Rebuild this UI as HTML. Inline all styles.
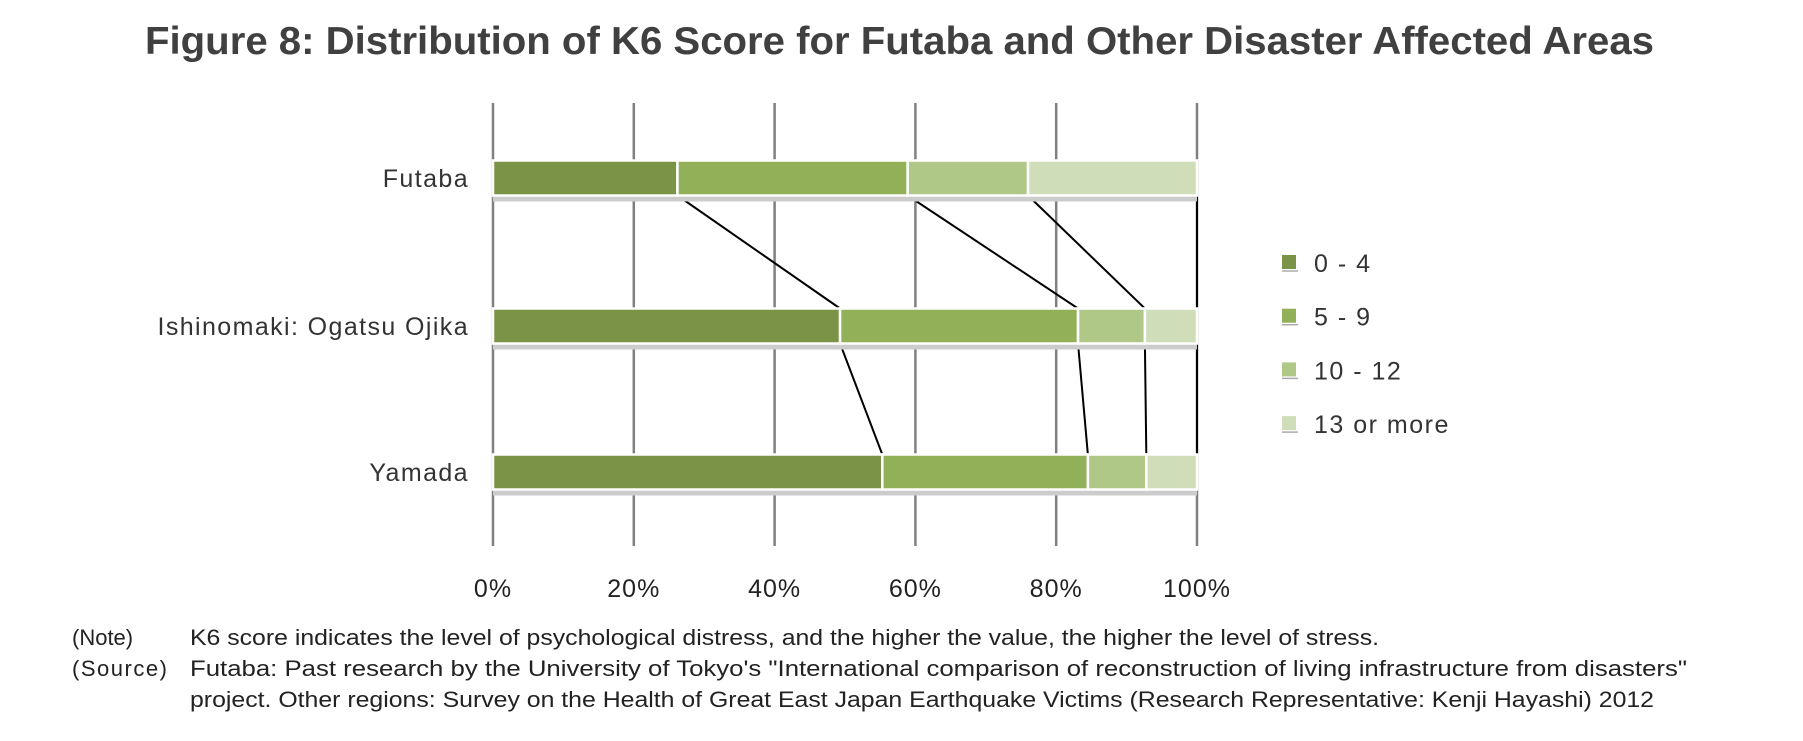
<!DOCTYPE html>
<html><head><meta charset="utf-8"><style>
body{margin:0;background:#fff}
svg{display:block;font-family:"Liberation Sans",sans-serif}
</style></head><body>
<svg id="c" width="1803" height="741" viewBox="0 0 1803 741">
<text x="145" y="54" textLength="1509" lengthAdjust="spacingAndGlyphs" font-size="39" font-weight="bold" fill="#404040">Figure 8: Distribution of K6 Score for Futaba and Other Disaster Affected Areas</text>
<g id="grid"></g><g id="conn"></g><g id="bars"></g><g id="labels"></g><g id="legend"></g>
<text x="72" y="645" font-size="22" fill="#222">(Note)</text>
<text x="190" y="645" textLength="1189" lengthAdjust="spacingAndGlyphs" font-size="22" fill="#222">K6 score indicates the level of psychological distress, and the higher the value, the higher the level of stress.</text>
<text x="72" y="676" textLength="95" font-size="22" fill="#222">(Source)</text>
<text x="190" y="676" textLength="1497" lengthAdjust="spacingAndGlyphs" font-size="22" fill="#222">Futaba: Past research by the University of Tokyo's "International comparison of reconstruction of living infrastructure from disasters"</text>
<text x="190" y="707" textLength="1464" lengthAdjust="spacingAndGlyphs" font-size="22" fill="#222">project. Other regions: Survey on the Health of Great East Japan Earthquake Victims (Research Representative: Kenji Hayashi) 2012</text>
</svg>
<script>
const categories=["Futaba","Ishinomaki: Ogatsu Ojika","Yamada"];
const seriesNames=["0 - 4","5 - 9","10 - 12","13 or more"];
const s0=[26.2,49.3,55.3];
const s1=[32.7,33.8,29.2];
const s2=[17.1,9.5,8.3];
const s3=[24.0,7.4,7.2];
const ticks=[0,20,40,60,80,100];
const colors=["#7a9346","#92b057","#b0c887","#cfddb9"];
const NS="http://www.w3.org/2000/svg";
const x=v=>493+v/100*(1197-493);
const bandC=[178,326,472], barH=35;
function mk(p,t,a){const e=document.createElementNS(NS,t);for(const k in a)e.setAttribute(k,a[k]);document.getElementById(p).appendChild(e);return e;}
ticks.forEach(t=>{
 const l=mk('grid','line',{x1:x(t),x2:x(t),y1:103,y2:546,stroke:'#808080','stroke-width':2.5});
 
 
 const tx=mk('labels','text',{x:x(t),y:597,'text-anchor':'middle','font-size':25,fill:'#222','letter-spacing':1});tx.textContent=t+'%';
 
 
});
const series=[s0,s1,s2,s3];
const cum=categories.map((c,i)=>{let a=0;return series.map(s=>a+=s[i]);});
categories.forEach((c,i)=>{
 const y=bandC[i]-barH/2;
 mk('bars','rect',{x:x(0),y:y+barH,width:x(100)-x(0),height:6,fill:'#ccc'});
 let a=0;
 series.forEach((s,k)=>{
  const r=mk('bars','rect',{x:x(a),y:y,width:x(a+s[i])-x(a),height:barH,fill:colors[k],stroke:'#fff','stroke-width':2.5});
  
  
  a+=s[i];
 });
 const t=mk('labels','text',{x:469,y:bandC[i]+9,'text-anchor':'end','font-size':25,fill:'#333','letter-spacing':1.4});t.textContent=c;
 
 
 if(i<categories.length-1){
  for(let k=0;k<4;k++){
   const l=mk('conn','line',{x1:x(cum[i][k]),y1:bandC[i]+barH/2,x2:x(cum[i+1][k]),y2:bandC[i+1]-barH/2,stroke:'#000','stroke-width':2});
   
   
  }
 }
});
seriesNames.forEach((n,k)=>{
 const y=263+k*53.7;
 const r=mk('legend','rect',{x:1282,y:y-8,width:14,height:14,fill:colors[k]});
 
 
 mk('legend','line',{x1:1282,x2:1298,y1:y+8,y2:y+8,stroke:'#aaa','stroke-width':1.5});
 const t=mk('legend','text',{x:1314,y:y+9,'font-size':25,fill:'#333','letter-spacing':1.5});t.textContent=n;
 
 
});
</script>
</body></html>
